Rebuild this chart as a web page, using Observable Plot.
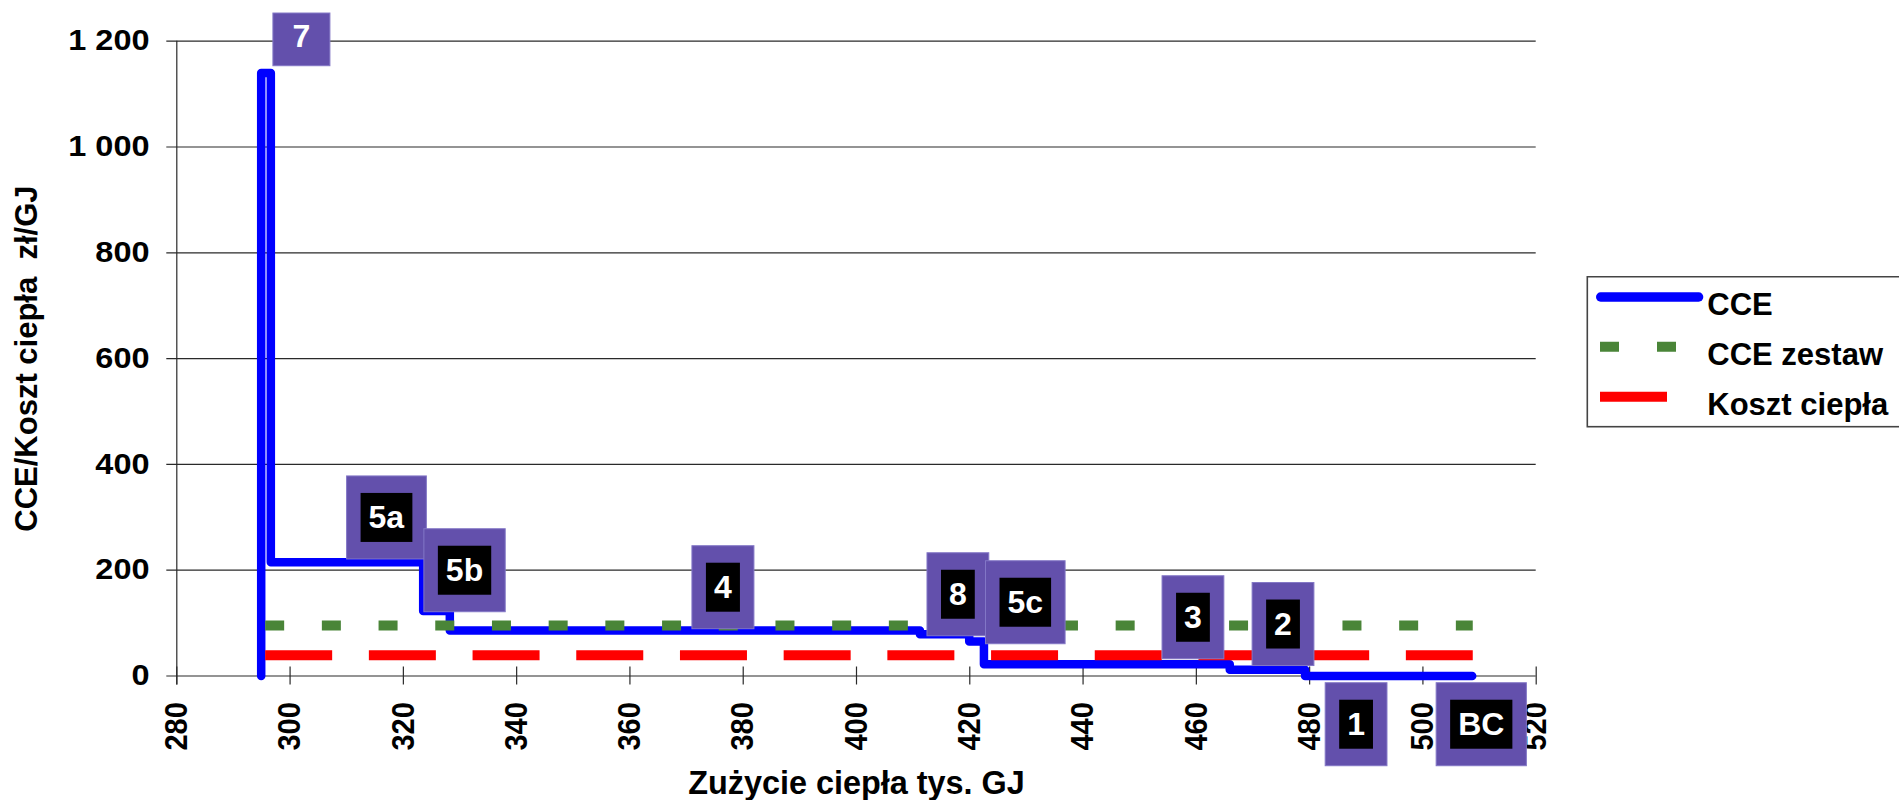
<!DOCTYPE html>
<html><head><meta charset="utf-8">
<script src="https://cdn.jsdelivr.net/npm/d3@7"></script>
<script src="https://cdn.jsdelivr.net/npm/@observablehq/plot@0.6"></script>
<style>
html,body{margin:0;padding:0;background:#fff;overflow:hidden;}
#wrap{position:relative;width:1899px;height:800px;overflow:hidden;background:#fff;}
#wrap svg{display:block;}
#legend{position:absolute;left:1586px;top:276px;}
</style></head><body><div id="wrap"></div>
<script>
// ---- data ----
const cceX = [294.9, 294.9, 296.6, 323.5, 328.2, 411.2, 419.9, 422.5, 465.9, 479.2, 508.7];
const cceY = [0, 1140, 215, 123, 86, 79, 65, 22, 12, 0, 0];
const zestawX = [295.6, 508.8];
const zestawY = [95.5, 95.5];
const kosztX = [295.6, 508.8];
const kosztY = [39, 39];
const labelText = ["7", "5a", "5b", "4", "8", "5c", "3", "2", "1", "BC"];
const labelX = [302.0, 317.0, 330.8, 376.4, 417.9, 429.8, 459.4, 475.3, 488.2, 510.3];
const labelY = [1207.6, 298.3, 198.5, 166.4, 153.1, 138.0, 109.6, 96.8, -92.6, -92.6];
const xTicks = [280, 300, 320, 340, 360, 380, 400, 420, 440, 460, 480, 500, 520];
const yTicks = [0, 200, 400, 600, 800, 1000, 1200];
const seriesNames = ["CCE", "CCE zestaw", "Koszt ciepła"];
const xTitle = "Zużycie ciepła tys. GJ";
const yTitle = "CCE/Koszt ciepła  zł/GJ";

// ---- styles ----
const FONT = '"Liberation Sans", Arial, Helvetica, sans-serif';
const BLUE = "#0000ff", GREEN = "#4a8538", RED = "#ff0000", PURPLE = "#6350ac", AX = "#2a2a2a";
const plainLabels = new Set(["7"]);

const cce = cceX.map((x, i) => ({x, y: cceY[i]}));
const zestaw = zestawX.map((x, i) => ({x, y: zestawY[i]}));
const koszt = kosztX.map((x, i) => ({x, y: kosztY[i]}));
const labels = labelText.map((t, i) => ({t, x: labelX[i], y: labelY[i]}));
const fmtY = d => d >= 1000 ? d3.format(",")(d).replace(/,/g, " ") : String(d);

const W = 1899, H = 800;
const chart = Plot.plot({
  width: W, height: H,
  marginLeft: 176.3, marginRight: W - 1535.7, marginTop: 40.7, marginBottom: H - 675.5,
  x: {domain: [280, 520], axis: null},
  y: {domain: [0, 1200], axis: null},
  style: {fontFamily: FONT, background: "white", overflow: "visible"},
  marks: [
    Plot.ruleY(yTicks, {y: d => d, stroke: AX, strokeWidth: 1.2, insetLeft: -10}),
    Plot.ruleX([280], {x: d => d, stroke: AX, strokeWidth: 1.2, insetBottom: -9}),
    Plot.ruleX(xTicks, {x: d => d, y1: () => 0, y2: () => 0, insetTop: -9, insetBottom: -9, stroke: AX, strokeWidth: 1.2}),
    Plot.text(yTicks, {y: d => d, frameAnchor: "left", text: fmtY, textAnchor: "end", dx: -27.3,
      fontSize: 29, fontWeight: "bold", fill: "black", ariaLabel: () => "ytick"}),
    Plot.text(xTicks, {x: d => d, frameAnchor: "bottom", text: d => String(d), rotate: -90,
      textAnchor: "end", lineAnchor: "middle", dy: 26.2, fontSize: 29, fontWeight: "bold", fill: "black",
      ariaLabel: () => "xtick"}),
    Plot.line(cce, {x: "x", y: "y", curve: "step-after", stroke: BLUE, strokeWidth: 8.5,
      strokeLinejoin: "round", strokeLinecap: "round"}),
    Plot.line(zestaw, {x: "x", y: "y", stroke: GREEN, strokeWidth: 10, strokeLinecap: "butt",
      strokeDasharray: "19,37.7"}),
    Plot.line(koszt, {x: "x", y: "y", stroke: RED, strokeWidth: 10, strokeLinecap: "butt",
      strokeDasharray: "67,36.7"}),
    Plot.text(labels, {x: "x", y: "y", text: "t", fill: "white", fontSize: 32, fontWeight: "bold",
      ariaLabel: () => "boxlabel"}),
    Plot.text([xTitle], {frameAnchor: "bottom", text: d => d, dy: 117.5, lineAnchor: "bottom",
      textAnchor: "middle", fontSize: 32.4, fontWeight: "bold", fill: "black"}),
    Plot.text([yTitle], {frameAnchor: "left", text: d => d, dx: -139.6, rotate: -90, lineAnchor: "bottom",
      textAnchor: "middle", fontSize: 31, fontWeight: "bold", fill: "black"})
  ]
});
const wrap = document.getElementById("wrap");
wrap.appendChild(chart);

// slight horizontal widening of axis tick labels, as in the reference
chart.querySelectorAll('text[aria-label="ytick"]').forEach(t => {
  const tr = t.getAttribute("transform");
  if (tr) t.setAttribute("transform", tr + " scale(1.12,1)");
});
chart.querySelectorAll('text[aria-label="xtick"]').forEach(t => {
  const tr = t.getAttribute("transform");
  if (tr) t.setAttribute("transform", tr + " scale(1,1.1)");
});

// label boxes drawn behind each label text (sized from the rendered text)
const NS = "http://www.w3.org/2000/svg";
let labelTexts = Array.from(chart.querySelectorAll('text[aria-label="boxlabel"]'));
if (!labelTexts.length) {
  chart.querySelectorAll("g").forEach(g => {
    if (g.getAttribute("fill") === "white") labelTexts.push(...g.querySelectorAll("text"));
  });
}
labelTexts.forEach(t => {
  const parent = t.parentNode;
  const bb = t.getBBox();
  const cx = bb.x + bb.width / 2, cy = bb.y + bb.height / 2;
  const tr = t.getAttribute("transform");
  const mk = (x, y, w, h, fill, stroke) => {
    const r = document.createElementNS(NS, "rect");
    r.setAttribute("x", x); r.setAttribute("y", y);
    r.setAttribute("width", w); r.setAttribute("height", h);
    r.setAttribute("fill", fill);
    if (stroke) { r.setAttribute("stroke", stroke); r.setAttribute("stroke-width", 1); }
    else r.setAttribute("stroke", "none");
    if (tr) r.setAttribute("transform", tr);
    parent.insertBefore(r, t);
  };
  if (plainLabels.has(t.textContent)) {
    mk(cx - 28.5, cy - 23.4, 57, 52.7, PURPLE, "#8377c6");
  } else {
    const iw = bb.width + 16, ih = 49;
    mk(cx - iw / 2 - 14, cy - ih / 2 - 17, iw + 28, ih + 34, PURPLE, "#8377c6");
    mk(cx - iw / 2, cy - ih / 2, iw, ih, "black");
  }
});

// legend
const leg = d3.create("svg").attr("id", "legend").attr("width", 320).attr("height", 155)
  .style("font-family", FONT);
leg.append("rect").attr("x", 1.3).attr("y", 0.7).attr("width", 400).attr("height", 150)
  .attr("fill", "white").attr("stroke", "#444").attr("stroke-width", 1.6);
const swatch = [
  {stroke: BLUE, w: 9.3, dash: null, cap: "round", x1: 14.65, x2: 112.65},
  {stroke: GREEN, w: 10, dash: "19,38", cap: "butt", x1: 14, x2: 90},
  {stroke: RED, w: 10, dash: null, cap: "butt", x1: 14, x2: 81}
];
seriesNames.forEach((name, i) => {
  const cy = 21 + i * 49.85;
  const s = swatch[i];
  leg.append("line").attr("x1", s.x1).attr("x2", s.x2).attr("y1", cy).attr("y2", cy)
    .attr("stroke", s.stroke).attr("stroke-width", s.w).attr("stroke-linecap", s.cap)
    .attr("stroke-dasharray", s.dash);
  leg.append("text").attr("x", 121.3).attr("y", cy + 17.8).attr("font-size", 31)
    .attr("font-weight", "bold").attr("fill", "black").text(name);
});
wrap.appendChild(leg.node());
</script></body></html>
